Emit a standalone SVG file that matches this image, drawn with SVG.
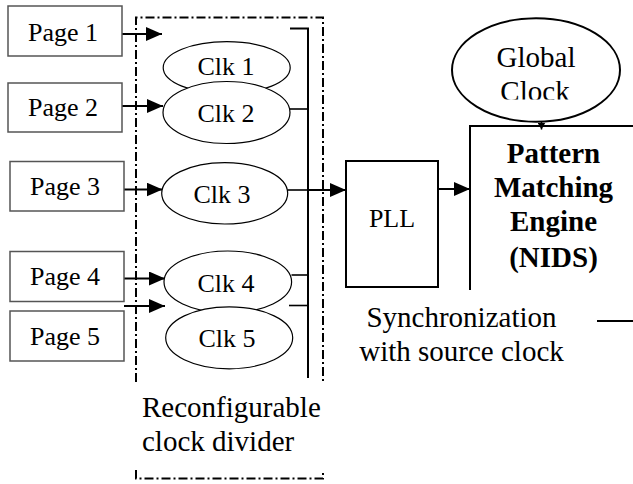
<svg xmlns="http://www.w3.org/2000/svg" width="633" height="484" viewBox="0 0 633 484" font-family="'Liberation Serif', 'Times New Roman', 'DejaVu Serif', serif">
<style>
  text { font-family: 'Liberation Serif', 'Times New Roman', 'DejaVu Serif', serif; fill: #000; }
  .t26 { font-size: 26px; }
  .t29 { font-size: 29px; }
  .b29 { font-size: 29px; font-weight: bold; }
  .page { fill: #fff; stroke: #555; stroke-width: 1.5; }
  .clk { fill: #fff; stroke: #000; stroke-width: 1.2; }
  .thick { fill: none; stroke: #000; stroke-width: 2; }
  .wire { fill: none; stroke: #000; stroke-width: 1.6; }
  .arrow { fill: none; stroke: #000; stroke-width: 2; marker-end: url(#ah); }
  .dashbox { fill: none; stroke: #000; stroke-width: 2; stroke-dasharray: 9 3 2 3; }
</style>
<defs>
  <marker id="ah" markerUnits="userSpaceOnUse" markerWidth="16" markerHeight="14" refX="16" refY="7" orient="auto">
    <path d="M0,0 L16,7 L0,14 z" fill="#000"/>
  </marker>
  <marker id="ahs" markerUnits="userSpaceOnUse" markerWidth="8" markerHeight="8" refX="7" refY="4" orient="auto">
    <path d="M0,0 L7,4 L0,8 z" fill="#000"/>
  </marker>
  <clipPath id="gcclip"><rect x="440" y="0" width="200" height="99.5"/></clipPath>
</defs>

<g id="divider-box">
  <path class="dashbox" d="M136,382 V17.5 H323 V382"/>
  <path class="dashbox" d="M136,470 V478.5 H323 V470"/>
  <text class="t29" x="142" y="417">Reconfigurable</text>
  <text class="t29" x="142" y="451">clock divider</text>
</g>

<g id="pme">
  <path class="thick" d="M470,290 V126 H640"/>
  <path class="thick" d="M597,321 H640"/>
  <text class="b29" x="553.5" y="163" text-anchor="middle">Pattern</text>
  <text class="b29" x="553.5" y="197" text-anchor="middle">Matching</text>
  <text class="b29" x="553.5" y="231" text-anchor="middle">Engine</text>
  <text class="b29" x="553.5" y="267" text-anchor="middle">(NIDS)</text>
</g>

<g id="sync-label">
  <text class="t29" x="461.5" y="327" text-anchor="middle">Synchronization</text>
  <text class="t29" x="461.5" y="361" text-anchor="middle">with source clock</text>
</g>

<g id="connectors">
  <path class="arrow" d="M122,34 H162"/>
  <path class="arrow" d="M122,106 H163"/>
  <path class="arrow" d="M124,189.5 H162.5"/>
  <path class="arrow" d="M124,278.5 H165"/>
  <path class="arrow" d="M124,306 H165"/>
  <path class="thick" d="M290,28.5 H308 V378"/>
  <path class="wire" d="M290,109 H308"/>
  <path class="wire" d="M291.5,275 H308"/>
  <path class="wire" d="M289,305.5 H308"/>
  <path class="wire" d="M287.5,190 H308"/>
  <path class="arrow" d="M308,190 H346"/>
  <path class="arrow" d="M438,189 H470"/>
  <path fill="none" stroke="#000" stroke-width="1.5" marker-end="url(#ahs)" d="M541.5,121.5 V129.5"/>
</g>

<g id="page1"><rect class="page" x="8" y="6" width="114" height="50"/><text class="t26" x="63" y="41" text-anchor="middle">Page 1</text></g>
<g id="page2"><rect class="page" x="8" y="83" width="114" height="49"/><text class="t26" x="63" y="116" text-anchor="middle">Page 2</text></g>
<g id="page3"><rect class="page" x="10" y="161.5" width="114" height="49.5"/><text class="t26" x="65" y="195" text-anchor="middle">Page 3</text></g>
<g id="page4"><rect class="page" x="10" y="251.5" width="114" height="50"/><text class="t26" x="65" y="285" text-anchor="middle">Page 4</text></g>
<g id="page5"><rect class="page" x="10" y="311" width="114" height="50"/><text class="t26" x="65" y="345" text-anchor="middle">Page 5</text></g>

<g id="clk1"><ellipse class="clk" cx="226.7" cy="67.7" rx="63.5" ry="26"/><text class="t26" x="226" y="75" text-anchor="middle">Clk 1</text></g>
<g id="clk2"><ellipse class="clk" cx="226.5" cy="112.5" rx="63.5" ry="31"/><text class="t26" x="226" y="121.5" text-anchor="middle">Clk 2</text></g>
<g id="clk3"><ellipse class="clk" cx="224.7" cy="193.3" rx="63" ry="30.7"/><text class="t26" x="222" y="203" text-anchor="middle">Clk 3</text></g>
<g id="clk4"><ellipse class="clk" cx="227.8" cy="282" rx="63.8" ry="31"/><text class="t26" x="226" y="291.5" text-anchor="middle">Clk 4</text></g>
<g id="clk5"><ellipse class="clk" cx="229.2" cy="337.8" rx="63.5" ry="31"/><text class="t26" x="227" y="347" text-anchor="middle">Clk 5</text></g>

<g id="pll"><rect class="thick" x="346" y="161" width="92" height="126" fill="#fff"/><text class="t26" x="392" y="227" text-anchor="middle">PLL</text></g>

<g id="global-clock">
  <ellipse class="thick" cx="536" cy="70" rx="84" ry="51.7" fill="#fff"/>
  <text class="t29" x="536" y="66.5" text-anchor="middle">Global</text>
  <text class="t29" x="535" y="101" text-anchor="middle" clip-path="url(#gcclip)">Clock</text>
</g>
</svg>
